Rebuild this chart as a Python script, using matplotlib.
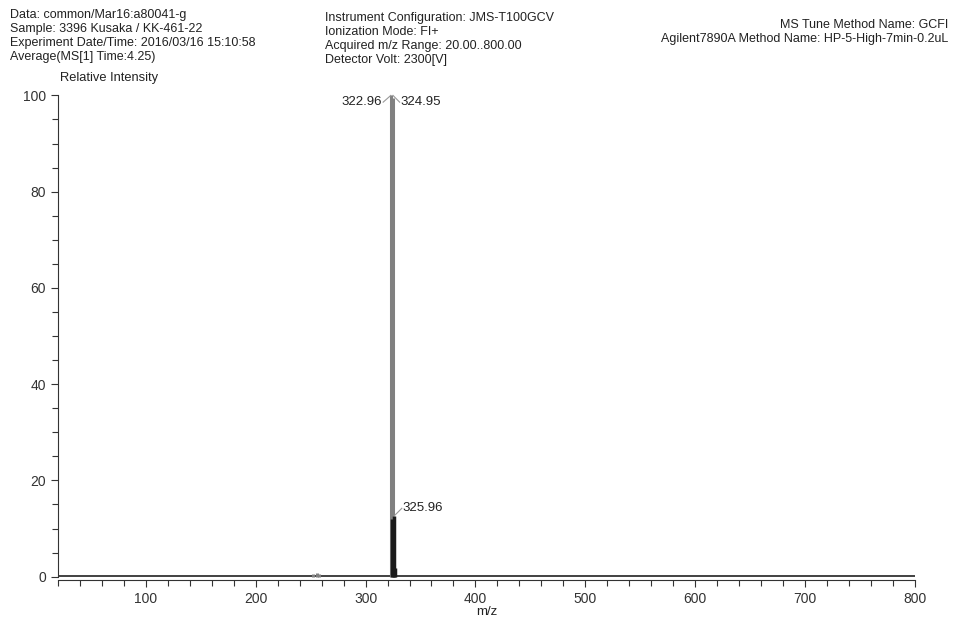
import matplotlib.pyplot as plt
from matplotlib.ticker import MultipleLocator

plt.rcParams['font.family'] = ['Liberation Sans', 'DejaVu Sans']

# Centroid peaks (m/z, relative intensity)
mz = [252.0, 256.0, 258.0, 322.96, 324.95]
intens = [0.5, 0.7, 0.5, 100.0, 99.5]

# small isotope peaks near the base
iso_mz = [323.96, 325.96, 326.96]
iso_int = [12.0, 12.6, 1.8]

# Baseline trace
base_mz = [20, 800]
base_int = [0.15, 0.15]

# Labelled peaks
lab_txt = ['322.96', '324.95', '325.96']

header_left = ['Data: common/Mar16:a80041-g',
               'Sample: 3396 Kusaka / KK-461-22',
               'Experiment Date/Time: 2016/03/16 15:10:58',
               'Average(MS[1] Time:4.25)']
header_mid = ['Instrument Configuration: JMS-T100GCV',
              'Ionization Mode: FI+',
              'Acquired m/z Range: 20.00..800.00',
              'Detector Volt: 2300[V]']
header_right = ['MS Tune Method Name: GCFI',
                'Agilent7890A Method Name: HP-5-High-7min-0.2uL']

fig = plt.figure(figsize=(9.55, 6.18), dpi=100)
ax = fig.add_axes([0.0607, 0.0615, 0.8973, 0.788])

ax.plot(base_mz, base_int, color='#333333', lw=1.3)
ax.vlines(mz, 0, intens, color='#808080', lw=2.2)
ax.vlines(iso_mz, 0, iso_int, color='#1a1a1a', lw=2.5)

# leader lines + labels
ax.plot([322.96, 316], [100, 98.6], color='#999999', lw=0.8)
ax.text(315, 98.6, lab_txt[0], ha='right', va='center', fontsize=9.5, color='#222222')
ax.plot([324.95, 331], [100, 98.6], color='#999999', lw=0.8)
ax.text(332, 98.6, lab_txt[1], ha='left', va='center', fontsize=9.5, color='#222222')
ax.plot([325.96, 333], [12.6, 14.2], color='#999999', lw=0.8)
ax.text(334, 14.2, lab_txt[2], ha='left', va='center', fontsize=9.5, color='#222222')

ax.set_xlim(20, 800)
ax.set_ylim(-0.7, 100.5)
ax.spines['top'].set_visible(False)
ax.spines['right'].set_visible(False)
ax.spines['left'].set_bounds(0, 100)
ax.spines['left'].set_color('#333333')
ax.spines['bottom'].set_color('#333333')

ax.xaxis.set_major_locator(MultipleLocator(100))
ax.xaxis.set_minor_locator(MultipleLocator(20))
ax.yaxis.set_major_locator(MultipleLocator(20))
ax.yaxis.set_minor_locator(MultipleLocator(5))
ax.tick_params(which='major', length=5, width=0.8, labelsize=10, colors='#333333')
ax.tick_params(which='minor', length=4, width=0.8, colors='#333333')
ax.tick_params(axis='x', pad=4)

ax.set_xlabel('m/z', fontsize=9.5, color='#222222', labelpad=0)
fig.text(0.063, 0.873, 'Relative Intensity', fontsize=9.3, color='#222222', va='center')

for i, s in enumerate(header_left):
    fig.text(0.010, 0.976 - i * 0.0228, s, fontsize=9, color='#222222', va='center')
for i, s in enumerate(header_mid):
    fig.text(0.340, 0.971 - i * 0.0228, s, fontsize=9, color='#222222', va='center')
for i, s in enumerate(header_right):
    fig.text(0.993, 0.960 - i * 0.0228, s, fontsize=9, color='#222222', va='center', ha='right')

fig.savefig('out.png', dpi=100)
